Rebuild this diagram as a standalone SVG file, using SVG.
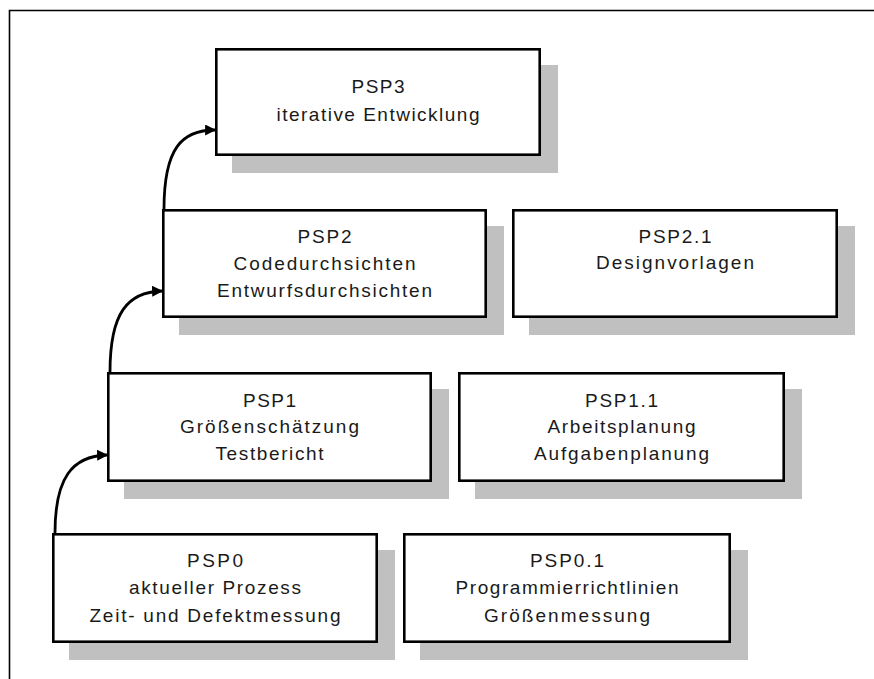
<svg xmlns="http://www.w3.org/2000/svg" width="874" height="679" viewBox="0 0 874 679">
<defs>
<style>
.frame{fill:none;stroke:#000;stroke-width:1.6}
.shadow{fill:#c0c0c0}
.box{fill:#fff;stroke:#000;stroke-width:2.6}
.t{font-family:"Liberation Sans",Arial,sans-serif;font-size:19px;fill:#1a1a1a;text-anchor:middle}
.arrow{fill:none;stroke:#000;stroke-width:2.8;marker-end:url(#ah)}
</style>
<marker id="ah" viewBox="0 0 10 10" refX="9" refY="5" markerWidth="12" markerHeight="11" markerUnits="userSpaceOnUse" orient="auto">
<path d="M0,0 L10,5 L0,10 z" fill="#000"/>
</marker>
</defs>
<rect width="874" height="679" fill="#fff"/>
<path class="frame" d="M9.5,679 L9.5,10.5 L874,10.5"/>

<g id="psp3">
<rect class="shadow" x="232" y="65" width="326" height="108"/>
<rect class="box" x="216.3" y="49.3" width="323.4" height="105.4"/>
<text class="t" x="378" y="93" textLength="53" lengthAdjust="spacing">PSP3</text>
<text class="t" x="378" y="121" textLength="203" lengthAdjust="spacing">iterative Entwicklung</text>
</g>

<g id="psp2">
<rect class="shadow" x="179" y="226" width="325" height="109"/>
<rect class="box" x="163.3" y="210.3" width="322.4" height="106.4"/>
<text class="t" x="324.5" y="243" textLength="54" lengthAdjust="spacing">PSP2</text>
<text class="t" x="324.5" y="270" textLength="182" lengthAdjust="spacing">Codedurchsichten</text>
<text class="t" x="324.5" y="297" textLength="215" lengthAdjust="spacing">Entwurfsdurchsichten</text>
</g>

<g id="psp2_1">
<rect class="shadow" x="529" y="226" width="326" height="109"/>
<rect class="box" x="513.3" y="210.3" width="323.4" height="106.4"/>
<text class="t" x="675" y="243" textLength="73" lengthAdjust="spacing">PSP2.1</text>
<text class="t" x="675" y="269" textLength="158" lengthAdjust="spacing">Designvorlagen</text>
</g>

<g id="psp1">
<rect class="shadow" x="124" y="389" width="325" height="110"/>
<rect class="box" x="108.3" y="373.3" width="322.4" height="107.4"/>
<text class="t" x="269.5" y="407" textLength="53" lengthAdjust="spacing">PSP1</text>
<text class="t" x="269.5" y="433" textLength="179" lengthAdjust="spacing">Größenschätzung</text>
<text class="t" x="269.5" y="460" textLength="108" lengthAdjust="spacing">Testbericht</text>
</g>

<g id="psp1_1">
<rect class="shadow" x="475" y="389" width="327" height="110"/>
<rect class="box" x="459.3" y="373.3" width="324.4" height="107.4"/>
<text class="t" x="621.5" y="407" textLength="73" lengthAdjust="spacing">PSP1.1</text>
<text class="t" x="621.5" y="433" textLength="148" lengthAdjust="spacing">Arbeitsplanung</text>
<text class="t" x="621.5" y="460" textLength="175" lengthAdjust="spacing">Aufgabenplanung</text>
</g>

<g id="psp0">
<rect class="shadow" x="69" y="550" width="326" height="110"/>
<rect class="box" x="53.3" y="534.3" width="323.4" height="107.4"/>
<text class="t" x="215" y="567" textLength="56" lengthAdjust="spacing">PSP0</text>
<text class="t" x="215" y="594" textLength="172" lengthAdjust="spacing">aktueller Prozess</text>
<text class="t" x="215" y="622" textLength="251" lengthAdjust="spacing">Zeit- und Defektmessung</text>
</g>

<g id="psp0_1">
<rect class="shadow" x="420" y="550" width="328" height="110"/>
<rect class="box" x="404.3" y="534.3" width="325.4" height="107.4"/>
<text class="t" x="567" y="567" textLength="74" lengthAdjust="spacing">PSP0.1</text>
<text class="t" x="567" y="594" textLength="223" lengthAdjust="spacing">Programmierrichtlinien</text>
<text class="t" x="567" y="622" textLength="166" lengthAdjust="spacing">Größenmessung</text>
</g>

<g id="connectors">
<path class="arrow" d="M55,533 C55,478 72,456 107,455"/>
<path class="arrow" d="M110,372 C110,312 128,292 162,291"/>
<path class="arrow" d="M164,209 C164,148 182,130 215,130"/>
</g>
</svg>
